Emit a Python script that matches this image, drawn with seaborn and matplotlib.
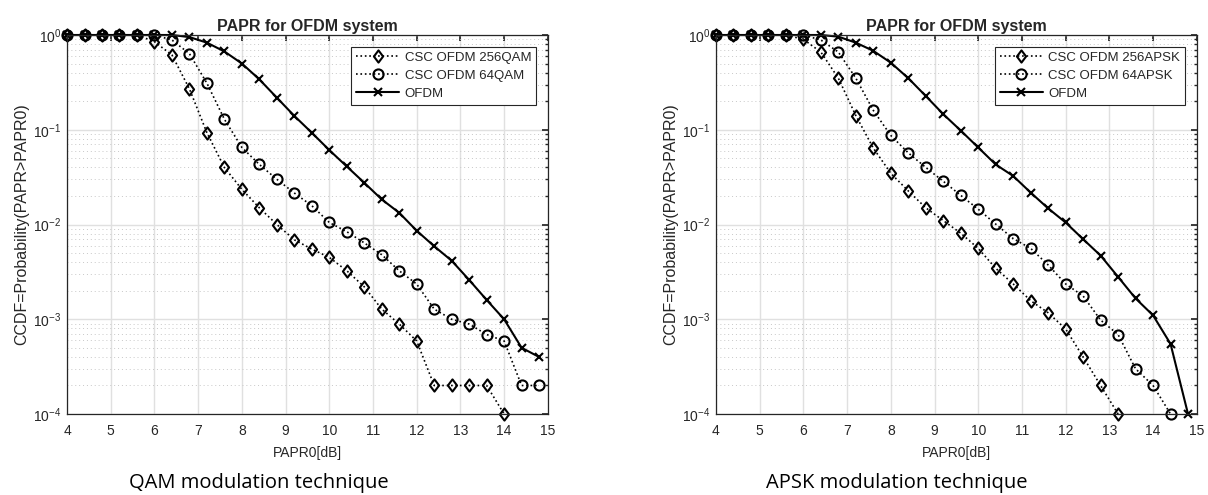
import numpy as np
import pandas as pd
import seaborn as sns
import matplotlib.pyplot as plt
from matplotlib.path import Path
from matplotlib.ticker import LogLocator, NullFormatter, FixedLocator

sns.set_theme(style="white")
plt.rcParams['font.family'] = ['Liberation Sans', 'DejaVu Sans']
plt.rcParams['mathtext.fontset'] = 'custom'
plt.rcParams['mathtext.rm'] = 'Liberation Sans'

nan = np.nan
papr0 = [4.0, 4.4, 4.8, 5.2, 5.6, 6.0, 6.4, 6.8, 7.2, 7.6, 8.0, 8.4, 8.8, 9.2,
         9.6, 10.0, 10.4, 10.8, 11.2, 11.6, 12.0, 12.4, 12.8, 13.2, 13.6, 14.0, 14.4, 14.8]

# QAM panel
qam256 = [1, 1, 1, 1, 1, 0.85, 0.615, 0.27, 0.093, 0.040, 0.0235, 0.015, 0.010, 0.0069,
          0.0055, 0.0045, 0.00325, 0.0022, 0.00128, 0.00089, 0.00059, 0.0002, 0.0002, 0.0002,
          0.0002, 0.0001, nan, nan]
qam64 = [1, 1, 1, 1, 1, 1, 0.885, 0.635, 0.31, 0.129, 0.065, 0.043, 0.030, 0.0215,
         0.0158, 0.0105, 0.0084, 0.0064, 0.0048, 0.00325, 0.00235, 0.00128, 0.001, 0.00089,
         0.00069, 0.00059, 0.0002, 0.0002]
ofdm_qam = [1, 1, 1, 1, 1, 1, 1, 0.95, 0.83, 0.67, 0.50, 0.34, 0.218, 0.14,
            0.093, 0.061, 0.041, 0.0276, 0.0184, 0.0133, 0.0086, 0.0059, 0.00415, 0.0026,
            0.0016, 0.0010, 0.0005, 0.0004]

# APSK panel
apsk256 = [1, 1, 1, 1, 1, 0.9, 0.66, 0.35, 0.141, 0.064, 0.0347, 0.0226, 0.015, 0.011,
           0.0081, 0.0056, 0.00345, 0.00236, 0.00157, 0.00117, 0.00079, 0.0004, 0.0002, 0.0001,
           nan, nan, nan, nan]
apsk64 = [1, 1, 1, 1, 1, 1, 0.885, 0.66, 0.35, 0.16, 0.087, 0.057, 0.040, 0.0286,
          0.0203, 0.0145, 0.0101, 0.0071, 0.0056, 0.00374, 0.00236, 0.00176, 0.00098, 0.00069,
          0.0003, 0.0002, 0.0001, nan]
ofdm_apsk = [1, 1, 1, 1, 1, 1, 1, 0.96, 0.83, 0.68, 0.51, 0.35, 0.227, 0.146,
             0.098, 0.065, 0.043, 0.0325, 0.0217, 0.0148, 0.0105, 0.0070, 0.0047, 0.0028,
             0.00166, 0.0011, 0.00055, 0.0001]

# matlab-ish diamond (a bit taller than wide)
diamond = Path([(0, 1), (0.75, 0), (0, -1), (-0.75, 0), (0, 1)],
               [Path.MOVETO, Path.LINETO, Path.LINETO, Path.LINETO, Path.CLOSEPOLY])

panels = [
    ("QAM modulation technique",
     [("CSC OFDM 256QAM", qam256, diamond, ':'), ("CSC OFDM 64QAM", qam64, 'o', ':'),
      ("OFDM", ofdm_qam, 'x', '-')]),
    ("APSK modulation technique",
     [("CSC OFDM 256APSK", apsk256, diamond, ':'), ("CSC OFDM 64APSK", apsk64, 'o', ':'),
      ("OFDM", ofdm_apsk, 'x', '-')]),
]

fig = plt.figure(figsize=(12.08, 4.95), dpi=100)
lefts = [0.0555, 0.5927]
cap_x = [0.2144, 0.7425]
for (caption, series), left, cx in zip(panels, lefts, cap_x):
    ax = fig.add_axes([left, 0.1636, 0.398, 0.7657])
    ax.set_yscale('log')
    for name, vals, mk, ls in series:
        df = pd.DataFrame({'x': papr0, 'y': vals}).dropna()
        if ls == '-':
            ms, lw = 5.5, 1.5
        elif mk == 'o':
            ms, lw = 7.3, 1.2
        else:
            ms, lw = 8.8, 1.2
        sns.lineplot(data=df, x='x', y='y', ax=ax, color='black', linestyle=ls,
                     linewidth=lw, marker=mk, markersize=ms, markerfacecolor='none',
                     markeredgecolor='black', markeredgewidth=1.5, label=name,
                     estimator=None, sort=False, clip_on=False)
    ax.set_xlim(4, 15)
    ax.set_ylim(1e-4, 1)
    ax.xaxis.set_major_locator(FixedLocator(range(4, 16)))
    ax.yaxis.set_major_locator(LogLocator(base=10, numticks=10))
    ax.yaxis.set_minor_locator(LogLocator(base=10, subs=np.arange(2, 10), numticks=10))
    ax.yaxis.set_minor_formatter(NullFormatter())
    ax.grid(True, which='major', color='#e0e0e0', linewidth=1.0)
    ax.grid(True, which='minor', axis='y', color='#c8c8c8', linestyle=(0, (1, 3)), linewidth=0.7)
    ax.tick_params(which='both', direction='in', top=True, right=True, labelsize=10,
                   colors='#262626')
    ax.tick_params(axis='x', pad=7)
    ax.tick_params(axis='y', pad=4)
    ax.tick_params(which='major', length=4)
    ax.tick_params(which='minor', length=2.5, bottom=False, top=False)
    for sp in ax.spines.values():
        sp.set_color('#262626')
        sp.set_linewidth(0.9)
    ax.set_xlabel('PAPR0[dB]', fontsize=10, color='#262626', labelpad=6)
    ax.set_ylabel('CCDF=Probability(PAPR>PAPR0)', fontsize=11.5, color='#262626', labelpad=3)
    ax.set_title('PAPR for OFDM system', fontsize=11.5, fontweight='bold', pad=3)
    leg = ax.legend(loc='upper right', fontsize=9.5, frameon=True, fancybox=False,
                    edgecolor='#262626', framealpha=1, handlelength=3.3,
                    borderaxespad=0.9, labelspacing=0.45, borderpad=0.35, handletextpad=0.4)
    leg.get_frame().set_linewidth(0.8)
    fig.text(cx, 0.024, caption, ha='center', va='center', color='black',
             fontsize=14.5, family=['Open Sans', 'DejaVu Sans'])

fig.savefig('out.png', dpi=100, facecolor='white')
